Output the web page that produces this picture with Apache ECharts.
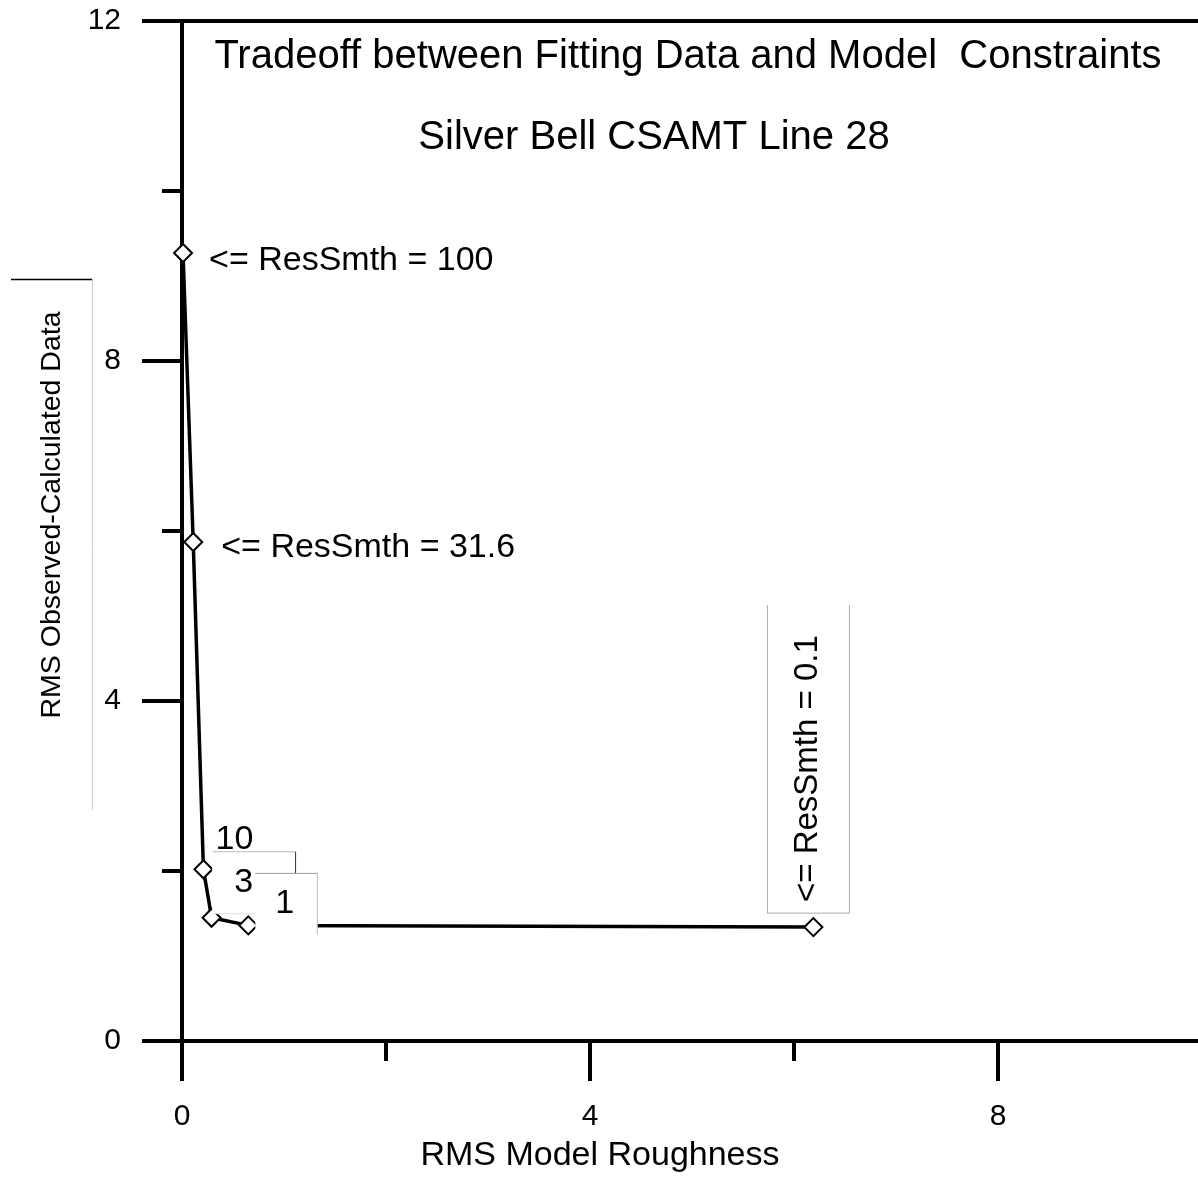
<!DOCTYPE html>
<html>
<head>
<meta charset="utf-8">
<title>Tradeoff between Fitting Data and Model Constraints</title>
<script src="https://cdn.jsdelivr.net/npm/echarts@6/dist/echarts.min.js"></script>
<style>
  html, body { margin: 0; padding: 0; background: #fff; }
  #main { width: 1198px; height: 1177px; }
</style>
</head>
<body>
<div id="main"></div>
<script>
  // one point per ResSmth run: model roughness (x) vs data misfit (y)
  var roughness = [0.01, 0.11, 0.21, 0.29, 0.65, 6.19];
  var misfit = [9.27, 5.87, 2.02, 1.45, 1.36, 1.34];
  var pointLabels = ['<= ResSmth = 100', '<= ResSmth = 31.6', '10', '3', '1', '<= ResSmth = 0.1'];

  var xMajorTicks = [0, 4, 8];
  var xMinorTicks = [2, 6];
  var yMajorTicks = [0, 4, 8, 12];
  var yMinorTicks = [2, 6, 10];

  var FONT = 'Liberation Sans, Arial, sans-serif';

  // how each annotation sits next to its point
  // (offset of the rotated one is in its own rotated frame)
  var labelStyles = [
    { position: 'right', distance: 16, offset: [0, 8], fontSize: 34 },
    { position: 'right', distance: 18, offset: [0, 6], fontSize: 34 },
    { position: 'inside', offset: [31, -30], fontSize: 34 },
    { position: 'inside', offset: [42, -35], fontSize: 34, lineHeight: 38,
      backgroundColor: '#fff', padding: [11, 42, 13, 22] },
    { position: 'inside', offset: [38, -22], fontSize: 34, lineHeight: 38,
      backgroundColor: '#fff', padding: [10, 23, 13, 20] },
    { position: 'inside', offset: [168, -5], rotate: 90, fontSize: 33, lineHeight: 36,
      backgroundColor: '#fff', padding: [23, 32, 23, 13] }
  ];

  var points = roughness.map(function (x, i) {
    var lab = Object.assign({ show: true, color: '#000', fontFamily: FONT, formatter: pointLabels[i] }, labelStyles[i]);
    return { value: [x, misfit[i]], label: lab };
  });

  var chart = echarts.init(document.getElementById('main'));

  var tickLine = { color: '#000', width: 4 };

  var option = {
    backgroundColor: '#fff',
    animation: false,
    title: [
      {
        text: 'Tradeoff between Fitting Data and Model  Constraints',
        left: 688, top: 37, textAlign: 'center', padding: 0,
        textStyle: { fontFamily: FONT, fontSize: 40, fontWeight: 'normal', color: '#000', lineHeight: 40 }
      },
      {
        text: 'Silver Bell CSAMT Line 28',
        left: 654, top: 118, textAlign: 'center', padding: 0,
        textStyle: { fontFamily: FONT, fontSize: 40, fontWeight: 'normal', color: '#000', lineHeight: 40 }
      }
    ],
    grid: { left: 182, right: -4, top: 21, bottom: 136, outerBoundsMode: 'none', containLabel: false },
    xAxis: [
      {
        type: 'value', min: 0, max: 10, position: 'bottom',
        name: 'RMS Model Roughness', nameLocation: 'middle', nameGap: 93,
        nameTextStyle: { fontFamily: FONT, fontSize: 34, color: '#000', lineHeight: 36, padding: [0, 184, 0, 0] },
        axisLine: { show: true, onZero: false, lineStyle: tickLine },
        axisTick: { show: true, length: 40, lineStyle: tickLine, customValues: xMajorTicks },
        axisLabel: { show: true, margin: 60, fontFamily: FONT, fontSize: 30, color: '#000', lineHeight: 32, customValues: xMajorTicks },
        splitLine: { show: false }
      },
      {
        type: 'value', min: 0, max: 10, position: 'bottom',
        axisLine: { show: false },
        axisTick: { show: true, length: 20, lineStyle: tickLine, customValues: xMinorTicks },
        axisLabel: { show: false },
        splitLine: { show: false }
      },
      {
        type: 'value', min: 0, max: 10, position: 'top',
        axisLine: { show: true, onZero: false, lineStyle: tickLine },
        axisTick: { show: false },
        axisLabel: { show: false },
        splitLine: { show: false }
      }
    ],
    yAxis: [
      {
        type: 'value', min: 0, max: 12, position: 'left',
        name: 'RMS Observed-Calculated Data', nameLocation: 'middle', nameGap: 115,
        nameTextStyle: { fontFamily: FONT, fontSize: 28.5, color: '#000', lineHeight: 30, padding: [0, 0, 0, 32] },
        axisLine: { show: true, onZero: false, lineStyle: tickLine },
        axisTick: { show: true, length: 40, lineStyle: tickLine, customValues: yMajorTicks },
        axisLabel: { show: true, margin: 61, fontFamily: FONT, fontSize: 30, color: '#000', customValues: yMajorTicks },
        splitLine: { show: false }
      },
      {
        type: 'value', min: 0, max: 12, position: 'left',
        axisLine: { show: false },
        axisTick: { show: true, length: 20, lineStyle: tickLine, customValues: yMinorTicks },
        axisLabel: { show: false },
        splitLine: { show: false }
      }
    ],
    series: [
      {
        name: 'ResSmth',
        type: 'line',
        xAxisIndex: 0,
        yAxisIndex: 0,
        data: points,
        symbol: 'diamond',
        symbolSize: 18,
        showAllSymbol: true,
        lineStyle: { color: '#000', width: 3.5 },
        itemStyle: { color: '#fff', borderColor: '#000', borderWidth: 2 },
        emphasis: { disabled: true }
      }
    ]
  };

  chart.setOption(option);

  // thin leftover text-box borders around the annotations and the y title
  function px(i) {
    return chart.convertToPixel({ seriesIndex: 0 }, [roughness[i], misfit[i]]);
  }
  function seg(x1, y1, x2, y2, color, w) {
    return { type: 'line', silent: true, z: 100,
      shape: { x1: x1, y1: y1, x2: x2, y2: y2 },
      style: { stroke: color, lineWidth: w || 1 } };
  }
  var a = px(3), b = px(4), c = px(5);
  chart.setOption({
    graphic: [
      seg(11, 279.5, 92, 279.5, '#000', 1.5),
      seg(92.5, 279, 92.5, 810, '#ccc', 1),
      seg(a[0] + 1, a[1] - 66, a[0] + 84, a[1] - 66, '#bbb', 1),
      seg(a[0] + 84, a[1] - 66, a[0] + 84, b[1] - 52, '#333', 1),
      seg(a[0] + 1, a[1] - 4, b[0] + 7, a[1] - 4, '#ddd', 1),
      seg(b[0] + 7, b[1] - 52, b[0] + 69, b[1] - 52, '#999', 1),
      seg(b[0] + 69, b[1] - 52, b[0] + 69, b[1] + 9, '#bbb', 1),
      seg(c[0] - 46, c[1] - 322, c[0] - 46, c[1] - 14, '#aaa', 1),
      seg(c[0] + 36, c[1] - 322, c[0] + 36, c[1] - 14, '#aaa', 1),
      seg(c[0] - 46, c[1] - 14, c[0] + 36, c[1] - 14, '#aaa', 1)
    ]
  });
</script>
</body>
</html>
